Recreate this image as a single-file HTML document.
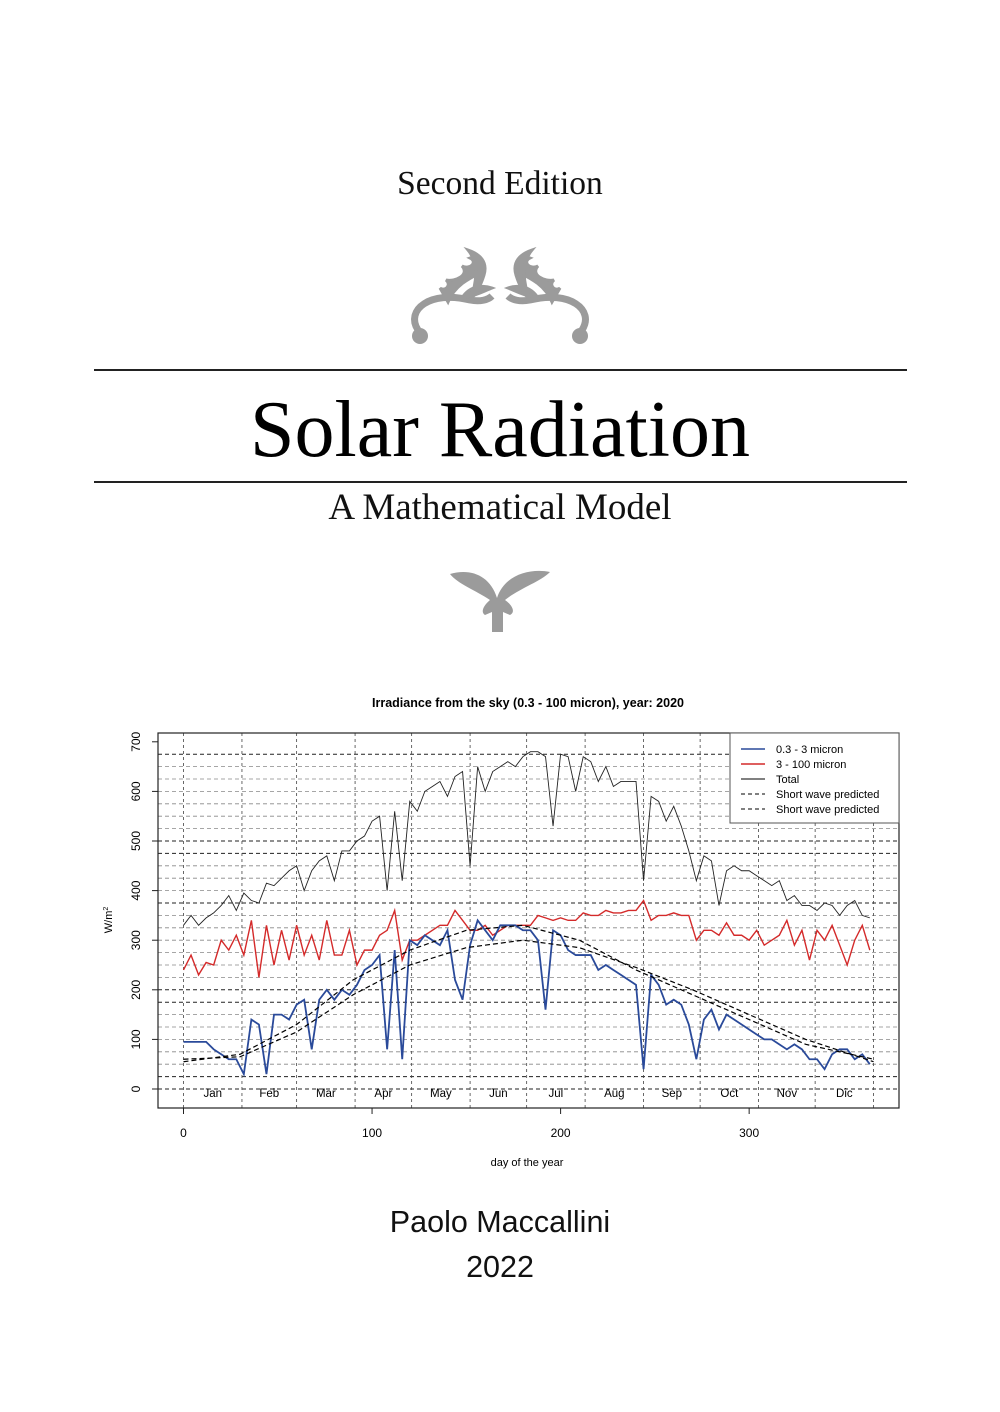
<!DOCTYPE html>
<html><head><meta charset="utf-8">
<style>
html,body{margin:0;padding:0;background:#fff;}
body{width:1000px;height:1412px;position:relative;overflow:hidden;}
svg{position:absolute;left:0;top:0;}
</style></head>
<body>
<svg id="page" width="1000" height="1412" viewBox="0 0 1000 1412" xmlns="http://www.w3.org/2000/svg">
  <text x="500" y="194" text-anchor="middle" font-family="Liberation Serif, serif" font-size="33.5" fill="#111">Second Edition</text>
  <g fill="#9b9b9b" stroke="#9b9b9b">
    <g id="leafL">
      <path d="M418,330 C405,310 430,290 470,300 C480,302 488,300 492,296" fill="none" stroke-width="7"/>
      <circle cx="420" cy="336" r="8" stroke="none"/>
      <path d="M448,302 C455,285 470,278 482,272 C488,265 478,255 470,258 C478,262 470,270 462,266 C470,275 455,282 446,280 C452,285 445,292 440,288 Z" stroke-width="3"/>
      <path d="M462,298 C470,285 484,285 492,288 C482,292 475,296 462,298 Z" stroke-width="3"/>
      <path d="M470,300 C478,280 478,262 468,250 C480,254 488,262 484,275 C480,288 475,295 470,300 Z" stroke-width="3"/>
    </g>
    <use href="#leafL" transform="translate(1000,0) scale(-1,1)"/>
  </g>
  <line x1="94" y1="370" x2="907" y2="370" stroke="#222" stroke-width="2"/>
  <text x="500" y="456" text-anchor="middle" font-family="Liberation Serif, serif" font-size="80" fill="#000">Solar Radiation</text>
  <line x1="94" y1="482" x2="907" y2="482" stroke="#222" stroke-width="2"/>
  <text x="500" y="519" text-anchor="middle" font-family="Liberation Serif, serif" font-size="37" fill="#111">A Mathematical Model</text>
  <g fill="#9b9b9b">
    <path d="M450,574 C470,568 490,575 497,598 C504,575 530,568 550,572 C540,582 520,588 505,600 C512,605 516,612 510,615 L503,612 L503,632 L492,632 L492,612 L485,615 C480,612 484,605 490,600 C475,590 458,584 450,574 Z"/>
  </g>

  <text x="528" y="707" text-anchor="middle" font-family="Liberation Sans, sans-serif" font-size="12.5" font-weight="bold">Irradiance from the sky (0.3 - 100 micron), year: 2020</text>
  <g id="grid"></g>
  <g id="marks"></g>
  <rect x="158" y="733" width="741" height="375" fill="none" stroke="#222" stroke-width="1.2"/>
  <g id="axes" font-family="Liberation Sans, sans-serif" font-size="12"></g>
  <text x="527" y="1166" text-anchor="middle" font-family="Liberation Sans, sans-serif" font-size="11">day of the year</text>
  <text transform="translate(112,920) rotate(-90)" text-anchor="middle" font-family="Liberation Sans, sans-serif" font-size="11">W/m<tspan dy="-4" font-size="7">2</tspan></text>
  <g font-family="Liberation Sans, sans-serif" font-size="11">
    <rect x="730" y="733" width="169" height="90" fill="#fff" stroke="#555" stroke-width="1"/>
    <line x1="741" y1="749" x2="765" y2="749" stroke="#2a4a9a" stroke-width="1.5"/><text x="776" y="753">0.3 - 3 micron</text>
    <line x1="741" y1="764" x2="765" y2="764" stroke="#d42a2a" stroke-width="1.5"/><text x="776" y="768">3 - 100 micron</text>
    <line x1="741" y1="779" x2="765" y2="779" stroke="#000" stroke-width="1"/><text x="776" y="783">Total</text>
    <line x1="741" y1="794" x2="765" y2="794" stroke="#000" stroke-dasharray="4,3"/><text x="776" y="798">Short wave predicted</text>
    <line x1="741" y1="809" x2="765" y2="809" stroke="#000" stroke-dasharray="4,3"/><text x="776" y="813">Short wave predicted</text>
  </g>

  <text x="500" y="1232" text-anchor="middle" font-family="Liberation Sans, sans-serif" font-size="30.5" fill="#111">Paolo Maccallini</text>
  <text x="500" y="1277" text-anchor="middle" font-family="Liberation Sans, sans-serif" font-size="30.5" fill="#111">2022</text>
</svg>
<script>
const days = [0,4,8,12,16,20,24,28,32,36,40,44,48,52,56,60,64,68,72,76,80,84,88,92,96,100,104,108,112,116,120,124,128,132,136,140,144,148,152,156,160,164,168,172,176,180,184,188,192,196,200,204,208,212,216,220,224,228,232,236,240,244,248,252,256,260,264,268,272,276,280,284,288,292,296,300,304,308,312,316,320,324,328,332,336,340,344,348,352,356,360,364];
const totalVals = [330,350,330,345,355,370,390,360,395,380,375,415,410,425,440,450,400,440,460,470,420,480,480,500,510,540,550,400,560,420,580,560,600,610,620,590,630,640,450,650,600,640,650,660,650,670,680,680,670,530,675,670,600,670,660,620,650,610,620,620,620,420,590,580,540,570,530,480,420,470,460,370,440,450,440,440,430,420,410,420,380,390,370,370,360,375,370,350,370,380,350,345];
const longVals = [240,270,230,255,250,300,280,310,270,340,225,330,250,320,260,330,270,310,260,340,270,270,320,250,280,280,310,320,360,260,300,300,310,320,330,330,360,340,320,320,330,310,320,330,330,330,330,350,345,340,345,340,340,355,350,350,360,355,355,360,360,380,340,350,350,355,350,350,300,320,320,310,335,310,310,300,320,290,300,310,340,290,320,260,320,300,330,290,250,300,330,280];
const shortVals = [95,95,95,95,80,70,60,60,30,140,130,30,150,150,140,170,180,80,180,200,180,200,190,210,240,250,270,80,280,60,300,290,310,300,290,320,220,180,290,340,320,300,330,330,330,320,320,300,160,320,310,280,270,270,270,240,250,240,230,220,210,40,230,210,170,180,170,130,60,140,160,120,150,140,130,120,110,100,100,90,80,90,80,60,60,40,70,80,80,60,70,50];
const predDays = [0,30,60,90,120,150,180,210,240,270,300,330,366];
const predA = [55,70,130,220,280,320,330,300,240,190,140,90,60];
const predB = [60,65,115,190,250,285,300,285,245,200,150,100,55];
const monthStarts = [0,31,60,91,121,152,182,213,244,274,305,335,366];
const monthNames = ["Jan","Feb","Mar","Apr","May","Jun","Jul","Aug","Sep","Oct","Nov","Dic"];
const xTicks = [0,100,200,300];
const yTicks = [0,100,200,300,400,500,600,700];
const gridVals = [0,25,50,75,100,125,150,175,200,225,250,275,300,325,350,375,400,425,450,475,500,525,550,575,600,625,650,675];

const NS = "http://www.w3.org/2000/svg";
const sx = d => 183.5 + d * 1.8855;
const sy = v => 1089 - v * 0.496;
function mk(tag, attrs, parent){const e=document.createElementNS(NS,tag);for(const k in attrs)e.setAttribute(k,attrs[k]);parent.appendChild(e);return e;}
const grid = document.getElementById('grid');
gridVals.forEach(v=>{
  const dark = [0,25,175,200,375,475,500,675].includes(v);
  const l = mk('line',{x1:158,x2:899,y1:sy(v),y2:sy(v),stroke:dark?'#222':'#888','stroke-width':dark?1:0.8,'stroke-dasharray':'4,3'},grid);
  
  
});
monthStarts.forEach(d=>{
  const l = mk('line',{x1:sx(d),x2:sx(d),y1:733,y2:1108,stroke:'#444','stroke-width':0.8,'stroke-dasharray':'3,3'},grid);
  
  
});
monthNames.forEach((m,i)=>{
  const t = mk('text',{x:(sx(monthStarts[i])+sx(monthStarts[i+1]))/2,y:1097,'text-anchor':'middle','font-family':'Liberation Sans, sans-serif','font-size':11.5},grid);
  t.textContent = m;
  
  
});
const marks = document.getElementById('marks');
function line(xs, ys, attrs, name){
  const p = mk('polyline',Object.assign({points:xs.map((d,i)=>sx(d)+','+sy(ys[i])).join(' '),fill:'none'},attrs),marks);
  
  
}
line(days,totalVals,{stroke:'#222','stroke-width':0.9},'total-line');
line(days,longVals,{stroke:'#d42a2a','stroke-width':1.4},'long-wave-line');
line(days,shortVals,{stroke:'#2a4a9a','stroke-width':1.8},'short-wave-line');
line(predDays,predA,{stroke:'#000','stroke-width':1.2,'stroke-dasharray':'5,3'},'predicted-line-1');
line(predDays,predB,{stroke:'#000','stroke-width':1.2,'stroke-dasharray':'5,3'},'predicted-line-2');
const axes = document.getElementById('axes');
xTicks.forEach(d=>{
  const l = mk('line',{x1:sx(d),x2:sx(d),y1:1108,y2:1114,stroke:'#222'},axes);
  
  
  const t = mk('text',{x:sx(d),y:1137,'text-anchor':'middle'},axes);
  t.textContent = d;
  
  
});
yTicks.forEach(v=>{
  const l = mk('line',{x1:152,x2:158,y1:sy(v),y2:sy(v),stroke:'#222'},axes);
  
  
  const t = mk('text',{transform:`translate(140,${sy(v)}) rotate(-90)`,'text-anchor':'middle'},axes);
  t.textContent = v;
  
  
});
</script>
</body></html>
